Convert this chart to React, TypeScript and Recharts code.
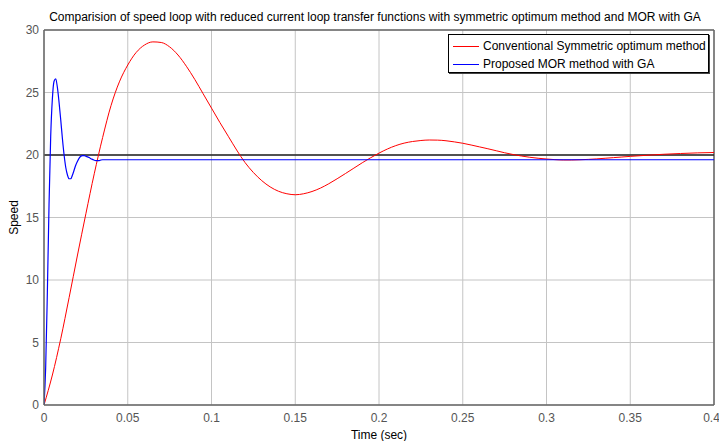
import React from 'react';
import { LineChart, Line, XAxis, YAxis, CartesianGrid, ReferenceLine, Label } from 'recharts';

const xTicks = [0, 0.05, 0.1, 0.15, 0.2, 0.25, 0.3, 0.35, 0.4];
const yTicks = [0, 5, 10, 15, 20, 25, 30];

// conventional symmetric optimum (red)
const redTime = [
  0, 0.005, 0.01, 0.015, 0.02, 0.025, 0.03, 0.035, 0.04, 0.045, 0.05, 0.055, 0.06, 0.065, 0.07,
  0.075, 0.08, 0.085, 0.09, 0.095, 0.1, 0.105, 0.11, 0.115, 0.12, 0.125, 0.13, 0.135, 0.14, 0.145,
  0.15, 0.155, 0.16, 0.165, 0.17, 0.175, 0.18, 0.185, 0.19, 0.195, 0.2, 0.205, 0.21, 0.215, 0.22,
  0.225, 0.23, 0.235, 0.24, 0.245, 0.25, 0.255, 0.26, 0.265, 0.27, 0.275, 0.28, 0.285, 0.29, 0.295,
  0.3, 0.305, 0.31, 0.315, 0.32, 0.325, 0.33, 0.335, 0.34, 0.345, 0.35, 0.36, 0.37, 0.38, 0.39, 0.4,
];
const redSpeed = [
  0, 2.4, 5.3, 8.6, 12.0, 15.3, 18.5, 21.4, 23.95, 25.85, 27.2, 28.2, 28.8, 29.05, 29.0,
  28.65, 28.0, 27.1, 26.05, 24.9, 23.75, 22.6, 21.5, 20.4, 19.4, 18.6, 17.95, 17.45, 17.1, 16.9,
  16.82, 16.9, 17.08, 17.35, 17.7, 18.1, 18.52, 18.95, 19.38, 19.78, 20.15, 20.48, 20.75, 20.95, 21.08,
  21.16, 21.2, 21.19, 21.14, 21.05, 20.94, 20.8, 20.65, 20.5, 20.34, 20.18, 20.04, 19.92, 19.82, 19.74,
  19.68, 19.63, 19.6, 19.6, 19.62, 19.65, 19.69, 19.74, 19.79, 19.84, 19.89, 19.98, 20.06, 20.12, 20.17, 20.2,
];

// proposed MOR with GA (blue)
const blueTime = [
  0, 0.001, 0.002, 0.003, 0.004, 0.005, 0.006, 0.007, 0.008, 0.009, 0.01, 0.011, 0.012, 0.013,
  0.014, 0.015, 0.016, 0.017, 0.018, 0.019, 0.02, 0.021, 0.022, 0.023, 0.024, 0.025, 0.026, 0.027,
  0.028, 0.029, 0.03, 0.031, 0.032, 0.033, 0.034, 0.035, 0.4,
];
const blueSpeed = [
  0, 3, 9, 16, 21.5, 24.5, 25.9, 26.1, 25.4, 24.2, 22.8, 21.3, 20.0, 19.0,
  18.4, 18.1, 18.1, 18.4, 18.8, 19.2, 19.5, 19.75, 19.9, 19.95, 19.95, 19.9, 19.85, 19.8,
  19.7, 19.65, 19.58, 19.55, 19.55, 19.55, 19.6, 19.62, 19.62,
];

// reference speed (black)
const refTime = [0, 0.4];
const refSpeed = [20, 20];

const toPoints = (ts: number[], vs: number[]) => ts.map((t, i) => ({ t, v: vs[i] }));

const redData = toPoints(redTime, redSpeed);
const blueData = toPoints(blueTime, blueSpeed);
const refData = toPoints(refTime, refSpeed);

const font = '"Liberation Sans", Arial, sans-serif';
const tickStyle = { fontSize: 12, fill: '#555', fontFamily: font };

export default function App() {
  return (
    <div style={{ position: 'absolute', left: 0, top: 0, width: 719, height: 441, background: '#fff', fontFamily: font }}>
      <div style={{ position: 'absolute', left: 40, top: 10, width: 670, textAlign: 'center', fontSize: 12, color: '#000', whiteSpace: 'nowrap' }}>
        Comparision of speed loop with reduced current loop transfer functions with symmetric optimum method and MOR with GA
      </div>
      <LineChart width={719} height={441} margin={{ top: 30, right: 5, bottom: 0, left: 0 }}>
        <CartesianGrid stroke="#c4c4c4" strokeWidth={1} />
        <XAxis
          dataKey="t"
          type="number"
          domain={[0, 0.4]}
          ticks={xTicks}
          height={36}
          tick={tickStyle}
          tickLine={false}
          axisLine={{ stroke: '#666', strokeWidth: 1.5 }}
          allowDataOverflow
        >
          <Label value="Time (sec)" position="insideBottom" offset={2} style={{ fontSize: 12, fill: '#000', fontFamily: font }} />
        </XAxis>
        <YAxis
          type="number"
          domain={[0, 30]}
          ticks={yTicks}
          width={44}
          tick={tickStyle}
          tickSize={3}
          tickLine={false}
          axisLine={{ stroke: '#666', strokeWidth: 1.5 }}
        >
          <Label value="Speed" angle={-90} position="insideLeft" offset={14} style={{ fontSize: 12, fill: '#000', fontFamily: font, textAnchor: 'middle' }} />
        </YAxis>
        <ReferenceLine y={30} stroke="#666" strokeWidth={1.5} />
        <ReferenceLine x={0.4} stroke="#666" strokeWidth={1.5} />
        <Line data={refData} dataKey="v" type="linear" stroke="#222" strokeWidth={1.6} dot={false} isAnimationActive={false} />
        <Line data={redData} dataKey="v" type="monotone" stroke="#ff0000" strokeWidth={1} dot={false} isAnimationActive={false} />
        <Line data={blueData} dataKey="v" type="monotone" stroke="#0000ff" strokeWidth={1.2} dot={false} isAnimationActive={false} />
      </LineChart>
      <div
        style={{
          position: 'absolute', left: 448, top: 34, width: 261, height: 39, boxSizing: 'border-box',
          border: '1px solid #000', boxShadow: '1px 1px 0 #444', background: '#fff', fontSize: 12, color: '#000',
        }}
      >
        {[
          { name: 'Conventional Symmetric optimum method', color: '#ff0000' },
          { name: 'Proposed MOR method with GA', color: '#0000ff' },
        ].map((item, i) => (
          <div key={item.name} style={{ position: 'absolute', left: 4, top: 2 + i * 18, height: 18, display: 'flex', alignItems: 'center', whiteSpace: 'nowrap' }}>
            <span style={{ display: 'inline-block', width: 26, height: 1, background: item.color, marginRight: 4 }} />
            {item.name}
          </div>
        ))}
      </div>
    </div>
  );
}
